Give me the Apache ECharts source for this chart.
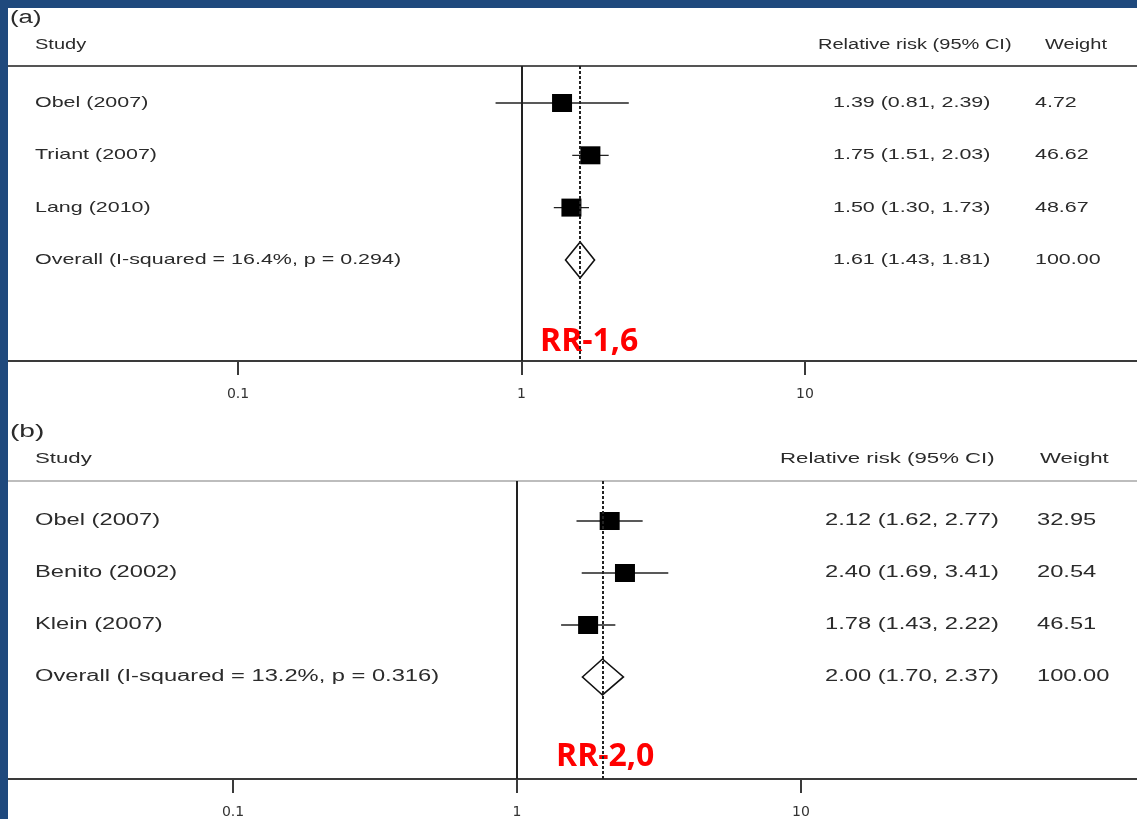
<!DOCTYPE html>
<html>
<head>
<meta charset="utf-8">
<script src="https://cdn.jsdelivr.net/npm/echarts@6/dist/echarts.min.js"></script>
<style>
  html, body {
    margin: 0;
    padding: 0;
    background: #1f497d;
    width: 1137px;
    height: 819px;
    overflow: hidden;
  }
  #chart {
    position: absolute;
    left: 8px;
    top: 8px;
    width: 1129px;
    height: 811px;
    background: #ffffff;
  }
</style>
</head>
<body>
<div id="chart"></div>
<script>
// panel (a)
const studiesA = ["Obel (2007)", "Triant (2007)", "Lang (2010)"];
const rrA = [1.39, 1.75, 1.50];
const lowA = [0.81, 1.51, 1.30];
const highA = [2.39, 2.03, 1.73];
const weightA = ["4.72", "46.62", "48.67"];
const overallLabelA = "Overall (I-squared = 16.4%, p = 0.294)";
const overallA = [1.61, 1.43, 1.81];
const overallWeightA = "100.00";
const noteA = "RR-1,6";

// panel (b)
const studiesB = ["Obel (2007)", "Benito (2002)", "Klein (2007)"];
const rrB = [2.12, 2.40, 1.78];
const lowB = [1.62, 1.69, 1.43];
const highB = [2.77, 3.41, 2.22];
const weightB = ["32.95", "20.54", "46.51"];
const overallLabelB = "Overall (I-squared = 13.2%, p = 0.316)";
const overallB = [2.00, 1.70, 2.37];
const overallWeightB = "100.00";
const noteB = "RR-2,0";

const tickValues = [0.1, 1, 10];

const chart = echarts.init(document.getElementById("chart"));

const ciText = (rr, lo, hi) =>
  rr.toFixed(2) + " (" + lo.toFixed(2) + ", " + hi.toFixed(2) + ")";

// [low, high, estimate, row, isOverall]
const rowsOf = (rr, low, high, overall) => {
  const rows = rr.map((v, i) => [low[i], high[i], v, i + 1, 0]);
  rows.push([overall[1], overall[2], overall[0], rr.length + 1, 1]);
  return rows;
};

const renderRow = (params, api) => {
  const row = api.value(3);
  const lo = api.coord([api.value(0), row]);
  const hi = api.coord([api.value(1), row]);
  const mid = api.coord([api.value(2), row]);

  if (api.value(4)) {
    return {
      type: "polygon",
      shape: {
        points: [
          [lo[0], mid[1]],
          [mid[0], mid[1] - 18],
          [hi[0], mid[1]],
          [mid[0], mid[1] + 18]
        ]
      },
      style: { fill: "#ffffff", stroke: "#111", lineWidth: 1.6 }
    };
  }

  return {
    type: "group",
    children: [
      {
        type: "line",
        shape: { x1: lo[0], y1: lo[1], x2: hi[0], y2: hi[1] },
        style: { stroke: "#222", lineWidth: 1.3 }
      },
      {
        type: "rect",
        shape: { x: mid[0] - 10, y: mid[1] - 9, width: 20, height: 18 },
        style: { fill: "#000" }
      }
    ]
  };
};

const bottomAxis = (gridIndex, min, max) => ({
  type: "log",
  logBase: 10,
  gridIndex: gridIndex,
  position: "bottom",
  min: min,
  max: max,
  splitLine: { show: false },
  axisLine: { lineStyle: { color: "#3a3a3a", width: 2 } },
  axisTick: {
    customValues: tickValues,
    length: 14,
    lineStyle: { color: "#3a3a3a", width: 2 }
  },
  axisLabel: {
    customValues: tickValues,
    margin: 26,
    color: "#333",
    fontSize: 14,
    fontFamily: "DejaVu Sans",
    formatter: v => String(v)
  }
});

const topAxis = (gridIndex, min, max, color) => ({
  type: "log",
  logBase: 10,
  gridIndex: gridIndex,
  position: "top",
  min: min,
  max: max,
  splitLine: { show: false },
  axisLine: { lineStyle: { color: color, width: 2 } },
  axisTick: { show: false },
  axisLabel: { show: false }
});

const refLines = (overall) => ({
  silent: true,
  symbol: "none",
  animation: false,
  label: { show: false },
  data: [
    { xAxis: 1, lineStyle: { type: "solid", color: "#222", width: 2 } },
    { xAxis: overall, lineStyle: { type: [3, 2], color: "#222", width: 2 } }
  ]
});

chart.setOption({
  animation: false,
  grid: [
    { left: 0, right: 0, top: 58, height: 295 },
    { left: 0, right: 0, top: 473, height: 298 }
  ],
  xAxis: [
    bottomAxis(0, 0.01544, 148.3),
    topAxis(0, 0.01544, 148.3, "#555"),
    bottomAxis(1, 0.01613, 152.5),
    topAxis(1, 0.01613, 152.5, "#bdbdbd")
  ],
  yAxis: [
    { type: "value", gridIndex: 0, inverse: true, min: 0.2925, max: 5.933, show: false },
    { type: "value", gridIndex: 1, inverse: true, min: 0.231, max: 5.962, show: false }
  ],
  series: [
    {
      type: "custom",
      xAxisIndex: 0,
      yAxisIndex: 0,
      renderItem: renderRow,
      encode: { x: [0, 1, 2], y: 3 },
      data: rowsOf(rrA, lowA, highA, overallA),
      markLine: refLines(overallA[0])
    },
    {
      type: "custom",
      xAxisIndex: 2,
      yAxisIndex: 1,
      renderItem: renderRow,
      encode: { x: [0, 1, 2], y: 3 },
      data: rowsOf(rrB, lowB, highB, overallB),
      markLine: refLines(overallB[0])
    }
  ]
});

// the table text is stretched sideways in the original, so it is drawn
// as graphic text with a horizontal scale
const textEl = (str, x, y, size, sx, extra) => ({
  type: "text",
  x: x,
  y: y,
  scaleX: sx,
  silent: true,
  style: Object.assign({
    text: str,
    fontSize: size,
    fontFamily: "Liberation Sans",
    fill: "#2b2b2b",
    textAlign: "left",
    textVerticalAlign: "middle"
  }, extra || {})
});

const panelTexts = (cfg) => {
  const els = [];
  const rowY = r => chart.convertToPixel({ yAxisIndex: cfg.yAxis }, r);
  const s = cfg.scale;
  const f = cfg.font;

  els.push(textEl(cfg.tag, 2, cfg.tagY, f + 3, s));
  els.push(textEl("Study", 27, cfg.headY, f - 1, s));
  els.push(textEl("Relative risk (95% CI)", cfg.headCiX, cfg.headY, f - 1, s));
  els.push(textEl("Weight", cfg.headWX, cfg.headY, f - 1, s));

  cfg.studies.forEach((name, i) => {
    const y = rowY(i + 1);
    els.push(textEl(name, 27, y, f, s));
    els.push(textEl(ciText(cfg.rr[i], cfg.low[i], cfg.high[i]), cfg.ciX, y, f, s));
    els.push(textEl(cfg.weight[i], cfg.wX, y, f, s));
  });

  const oy = rowY(cfg.studies.length + 1);
  els.push(textEl(cfg.overallLabel, 27, oy, f, s));
  els.push(textEl(ciText(cfg.overall[0], cfg.overall[1], cfg.overall[2]), cfg.ciX, oy, f, s));
  els.push(textEl(cfg.overallWeight, cfg.wX, oy, f, s));

  els.push(textEl(cfg.note, cfg.noteX, cfg.noteY, 32, 1, {
    fontFamily: "Open Sans",
    fontWeight: "bold",
    fill: "#ff0000"
  }));
  return els;
};

chart.setOption({
  graphic: panelTexts({
    yAxis: 0, scale: 1.43, font: 15,
    tag: "(a)", tagY: 10, headY: 37, headCiX: 810, headWX: 1037,
    ciX: 825, wX: 1027,
    studies: studiesA, rr: rrA, low: lowA, high: highA, weight: weightA,
    overallLabel: overallLabelA, overall: overallA, overallWeight: overallWeightA,
    note: noteA, noteX: 532, noteY: 334
  }).concat(panelTexts({
    yAxis: 1, scale: 1.48, font: 16,
    tag: "(b)", tagY: 424, headY: 451, headCiX: 772, headWX: 1032,
    ciX: 817, wX: 1029,
    studies: studiesB, rr: rrB, low: lowB, high: highB, weight: weightB,
    overallLabel: overallLabelB, overall: overallB, overallWeight: overallWeightB,
    note: noteB, noteX: 548, noteY: 749
  }))
});
</script>
</body>
</html>
